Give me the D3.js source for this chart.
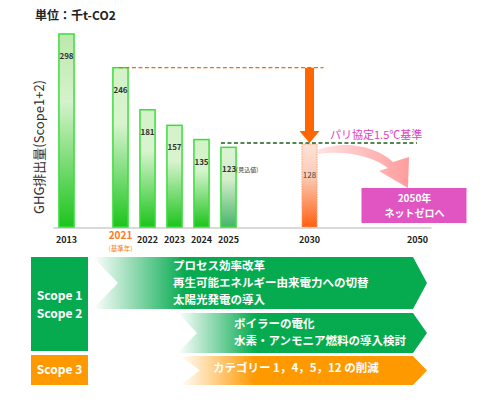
<!DOCTYPE html>
<meta charset="UTF-8">
<style>
  body { margin: 0; background: #fff; }
  text { font-family: "Noto Sans CJK JP", "Noto Sans", sans-serif; }
</style>
<svg width="489" height="403"></svg>
<script src="https://d3js.org/d3.v7.min.js"></script>
<script>

// data
var slots = ["2013", "_a", "2021", "2022", "2023", "2024", "2025", "_b", "_c", "2030", "_d", "_e", "_f", "2050"];
var years = ["2013", "2021", "2022", "2023", "2024", "2025", "2030", "2050"];
var actualYears = ["2013", "2021", "2022", "2023", "2024", "2025"];
var actualValues = [298, 246, 181, 157, 135, 123];
var targetYear = "2030";
var targetValue = 128;
var baseYear = "2021";
var scope12Measures = ["プロセス効率改革", "再生可能エネルギー由来電力への切替", "太陽光発電の導入"];
var scope12Measures2 = ["ボイラーの電化", "水素・アンモニア燃料の導入検討"];
var scope3Measures = ["カテゴリー 1，4，5，12 の削減"];

var svg = d3.select("svg");
var defs = svg.append("defs");

var x = d3.scaleBand().domain(slots).range([53, 431]).paddingInner(0.44).paddingOuter(0.22);
var y = d3.scaleLinear().domain([0, 300]).range([227, 32.7]);

function grad(id, stops, x1, y1, x2, y2, user) {
    var g = defs.append("linearGradient").attr("id", id)
        .attr("x1", x1).attr("y1", y1).attr("x2", x2).attr("y2", y2);
    if (user) g.attr("gradientUnits", "userSpaceOnUse");
    stops.forEach(function(s) {
        g.append("stop").attr("offset", s[0]).attr("stop-color", s[1]);
    });
}
grad("gBar", [[0, "#d3f2c8"], [0.35, "#d8f4cf"], [1, "#1cc41c"]], 0, 0, 0, 1);
grad("gBar13", [[0, "#bde8ad"], [0.35, "#d5f2cb"], [1, "#1cc41c"]], 0, 0, 0, 1);
grad("gBar25", [[0, "#dcf4d4"], [0.4, "#d4eecb"], [1, "#45b46a"]], 0, 0, 0, 1);
grad("gTarget", [[0, "#fde3d8"], [0.4, "#fbcab5"], [1, "#ff6010"]], 0, 0, 0, 1);
grad("gPink", [[0, "#ffe2e2"], [1, "#ff9c9c"]], 0, 0, 1, 0);

// title
svg.append("text").attr("x", 35).attr("y", 20)
    .attr("font-size", 12).attr("font-weight", "bold").attr("fill", "#222")
    .text("単位：千t-CO2");

// y label
svg.append("text")
    .attr("transform", "translate(44,147) rotate(-90)")
    .attr("text-anchor", "middle")
    .attr("font-size", 13).attr("fill", "#333")
    .text("GHG排出量(Scope1+2)");

// axis
var axis = svg.append("g").attr("transform", "translate(0,227.5)")
    .call(d3.axisBottom(x).tickValues(years).tickSize(0).tickPadding(9));
axis.select(".domain").attr("stroke", "#d9d9d9").attr("stroke-width", 2);
axis.selectAll("text")
    .attr("font-family", "Noto Sans, sans-serif")
    .attr("font-weight", "bold")
    .attr("font-size", 9)
    .attr("fill", "#222");
axis.selectAll(".tick").filter(function(d) { return d === baseYear; }).select("text")
    .attr("fill", "#ff7a20").attr("font-size", 10).attr("dy", "0.2em");
svg.append("text")
    .attr("x", x(baseYear) + x.bandwidth() / 2).attr("y", 251)
    .attr("text-anchor", "middle").attr("font-size", 6.5).attr("fill", "#ff7a20")
    .text("(基準年)");

// bars
var bars = actualYears.map(function(d, i) { return { year: d, value: actualValues[i] }; });

svg.selectAll(".bar").data(bars).enter().append("rect")
    .attr("class", "bar")
    .attr("x", function(d) { return x(d.year); })
    .attr("y", function(d) { return y(d.value); })
    .attr("width", x.bandwidth())
    .attr("height", function(d) { return y(0) - y(d.value); })
    .attr("fill", function(d) {
        if (d.year === "2013") return "url(#gBar13)";
        if (d.year === "2025") return "url(#gBar25)";
        return "url(#gBar)";
    })
    .attr("stroke", "#3ddc3d")
    .attr("stroke-width", 1.5);

svg.selectAll(".val").data(bars).enter().append("text")
    .attr("class", "val")
    .attr("x", function(d) { return x(d.year) + x.bandwidth() / 2; })
    .attr("y", function(d) { return y(d.value) + 25; })
    .attr("text-anchor", function(d) { return d.year === "2025" ? "start" : "middle"; })
    .attr("dx", function(d) { return d.year === "2025" ? -x.bandwidth() / 2 + 1 : 0; })
    .attr("font-family", "Noto Sans, sans-serif")
    .attr("font-weight", "bold").attr("font-size", 8).attr("fill", "#333")
    .text(function(d) { return d.value; })
    .filter(function(d) { return d.year === "2025"; })
    .append("tspan").attr("font-size", 6).attr("font-weight", "normal")
    .attr("font-family", "Noto Sans CJK JP, sans-serif")
    .text("(見込値)");

// target bar 2030
svg.append("rect")
    .attr("x", x(targetYear)).attr("y", y(targetValue))
    .attr("width", x.bandwidth()).attr("height", y(0) - y(targetValue))
    .attr("fill", "url(#gTarget)")
    .attr("stroke", "#ffa070").attr("stroke-width", 1).attr("stroke-dasharray", "1.5,1");
svg.append("text")
    .attr("x", x(targetYear) + x.bandwidth() / 2).attr("y", y(targetValue) + 34)
    .attr("text-anchor", "middle")
    .attr("font-family", "Noto Sans, sans-serif")
    .attr("font-size", 8).attr("fill", "#444")
    .text(targetValue);

// reference lines
var cx = x(targetYear) + x.bandwidth() / 2;
svg.append("line")
    .attr("x1", x(baseYear) + 6).attr("x2", cx + 14)
    .attr("y1", y(actualValues[1])).attr("y2", y(actualValues[1]))
    .attr("stroke", "#ff6600").attr("stroke-width", 1.3).attr("stroke-dasharray", "4,2.5");
svg.append("line")
    .attr("x1", x("2025")).attr("x2", x("2050") + 7)
    .attr("y1", y(targetValue) - 1).attr("y2", y(targetValue) - 1)
    .attr("stroke", "#1e5c1e").attr("stroke-width", 1.5).attr("stroke-dasharray", "4,2.5");

// big down arrow
var aTop = y(actualValues[1]), aTip = y(targetValue) - 1, aHead = aTip - 12;
svg.append("path")
    .attr("d", "M" + (cx - 4.5) + "," + aTop + "H" + (cx + 4.5) + "V" + aHead +
        "H" + (cx + 10) + "L" + cx + "," + aTip + "L" + (cx - 10) + "," + aHead +
        "H" + (cx - 4.5) + "Z")
    .attr("fill", "#ff6600");

svg.append("text")
    .attr("x", 330).attr("y", 139)
    .attr("font-size", 11).attr("fill", "#e040c0")
    .text("パリ協定1.5℃基準");

// curved pink arrow
svg.append("path")
    .attr("d", "M318,150 C345,140 375,146 393,162 L409,157 L408,188 L379,171 L388,168 C372,156 345,150 318,154 Z")
    .attr("fill", "url(#gPink)");

// net zero box
var x50 = x("2050") + x.bandwidth() / 2;
svg.append("rect").attr("x", x50 - 56).attr("y", 188).attr("width", 105).attr("height", 35)
    .attr("fill", "#e055c2");
svg.append("text").attr("x", x50 - 3).attr("y", 202)
    .attr("text-anchor", "middle").attr("font-size", 10).attr("font-weight", "bold").attr("fill", "#fff")
    .text("2050年");
svg.append("text").attr("x", x50 - 3).attr("y", 217)
    .attr("text-anchor", "middle").attr("font-size", 10).attr("font-weight", "bold").attr("fill", "#fff")
    .text("ネットゼロへ");

// bottom roadmap
svg.append("rect").attr("x", 31).attr("y", 257).attr("width", 57).attr("height", 94).attr("fill", "#06ab50");
svg.append("rect").attr("x", 31).attr("y", 355).attr("width", 57).attr("height", 30).attr("fill", "#ff9900");
[["Scope 1", 300], ["Scope 2", 318], ["Scope 3", 374]].forEach(function(s) {
    svg.append("text").attr("x", 59.5).attr("y", s[1])
        .attr("text-anchor", "middle").attr("font-family", "Noto Sans, sans-serif")
        .attr("font-size", 12).attr("font-weight", "bold").attr("fill", "#fff")
        .text(s[0]);
});

grad("gArr1", [[0, "#ffffff"], [1, "#06ab50"]], 93, 0, 185, 0, true);
grad("gArr2", [[0, "#ffffff"], [1, "#06ab50"]], 178, 0, 255, 0, true);
grad("gArr3", [[0, "#ffffff"], [1, "#ff9900"]], 180, 0, 255, 0, true);

function chevron(x0, notch, y0, y1, fill) {
    var ym = (y0 + y1) / 2;
    svg.append("path")
        .attr("d", "M" + x0 + "," + y0 + "H413L427," + ym + "L413," + y1 + "H" + x0 + "L" + notch + "," + ym + "Z")
        .attr("fill", fill);
}
chevron(93, 118, 257, 309, "url(#gArr1)");
chevron(178, 197, 313, 353, "url(#gArr2)");
chevron(180, 200, 356, 385, "url(#gArr3)");

function lines(list, x0, ys) {
    list.forEach(function(t, i) {
        svg.append("text").attr("x", x0).attr("y", ys[i])
            .attr("font-size", 11.5).attr("font-weight", "bold").attr("fill", "#fff")
            .text(t);
    });
}
lines(scope12Measures, 173, [270, 287, 304]);
lines(scope12Measures2, 234, [328, 345]);
lines(scope3Measures, 213, [372]);

</script>
